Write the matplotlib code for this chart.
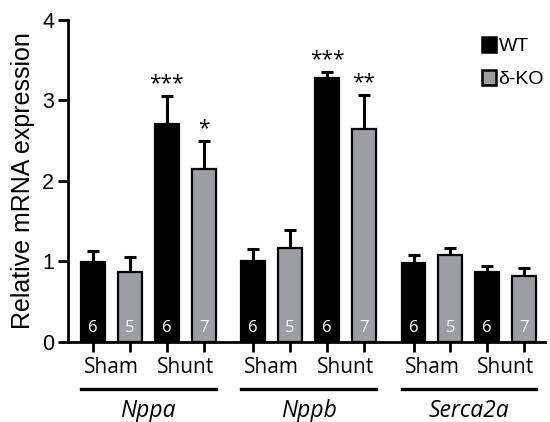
import numpy as np
import matplotlib
matplotlib.use("Agg")
import matplotlib.pyplot as plt
from matplotlib.patches import Patch

plt.rcParams['font.family'] = ['Open Sans', 'DejaVu Sans']

genes = ["Nppa", "Nppb", "Serca2a"]
conditions = ["Sham", "Shunt"]
genotypes = ["WT", "δ-KO"]
colors = ["#000000", "#9d9ea2"]

# per gene: [Sham WT, Sham KO, Shunt WT, Shunt KO]
means = [
    [0.99, 0.87, 2.71, 2.15],
    [1.00, 1.17, 3.28, 2.65],
    [0.98, 1.08, 0.87, 0.82],
]
errs = [
    [0.14, 0.18, 0.35, 0.35],
    [0.16, 0.22, 0.08, 0.42],
    [0.10, 0.09, 0.08, 0.10],
]
n_vals = [
    [6, 5, 6, 7],
    [6, 5, 6, 7],
    [6, 5, 6, 7],
]
stars = [
    ["", "", "***", "*"],
    ["", "", "***", "**"],
    ["", "", "", ""],
]

group_step = 4.35
width = 0.65
arial = ['Liberation Sans', 'DejaVu Sans']

fig = plt.figure(figsize=(5.5, 4.22), dpi=100)
ax = fig.add_axes([0.1236, 0.1896, 0.868, 0.763])

tick_x = []
for g in range(len(genes)):
    xs = g * group_step + np.arange(4)
    cols = [colors[i % 2] for i in range(4)]
    ax.bar(xs, means[g], width=width, color=cols, edgecolor="black",
           linewidth=1.6, zorder=2)
    ax.errorbar(xs, means[g], yerr=[np.zeros(4), errs[g]], fmt="none",
                ecolor="black", elinewidth=2.2, capsize=4.3, capthick=2.2, zorder=1)
    for i, x in enumerate(xs):
        ax.text(x, 0.08, str(n_vals[g][i]), color="white", ha="center",
                va="bottom", fontsize=12)
        if stars[g][i]:
            ax.text(x, means[g][i] + errs[g][i] + 0.02, stars[g][i],
                    ha="center", va="bottom", fontsize=15)
    tick_x.extend(xs)
    # condition labels
    for c, cond in enumerate(conditions):
        ax.text(xs[2 * c] + 0.5, -0.08, cond, transform=ax.get_xaxis_transform(),
                ha="center", va="center", fontsize=15)
    ax.plot([xs[0] - width / 2, xs[3] + width / 2], [-0.147, -0.147],
            color="black", lw=2.4, transform=ax.get_xaxis_transform(), clip_on=False)
    ax.text(xs[0] + 1.5, -0.215, genes[g], transform=ax.get_xaxis_transform(),
            ha="center", va="center", fontsize=16.5, style="italic")

ax.set_xticks(tick_x)
ax.set_xticklabels([])
ax.set_xlim(-0.68, 12.28)
ax.set_ylim(0, 4)
ax.set_yticks([0, 1, 2, 3, 4])
ax.set_yticklabels(["0", "1", "2", "3", "4"], family=arial, fontsize=15.5)
ax.tick_params(axis="both", width=2, length=7, pad=3)
ax.spines["top"].set_visible(False)
ax.spines["right"].set_visible(False)
ax.spines["left"].set_linewidth(2)
ax.spines["bottom"].set_linewidth(2)
ax.set_ylabel("Relative mRNA expression", fontsize=18, family=arial, labelpad=5)

handles = [Patch(facecolor=colors[i], edgecolor="black", linewidth=1.8) for i in range(2)]
fig.legend(handles, genotypes, loc="upper left", bbox_to_anchor=(482 / 550, 1 - 37 / 422),
           frameon=False, prop={"family": arial, "size": 14}, handlelength=0.7,
           handleheight=0.8, handletextpad=0.15, labelspacing=0.75,
           borderpad=0, borderaxespad=0)

fig.savefig("out.png", dpi=100)
